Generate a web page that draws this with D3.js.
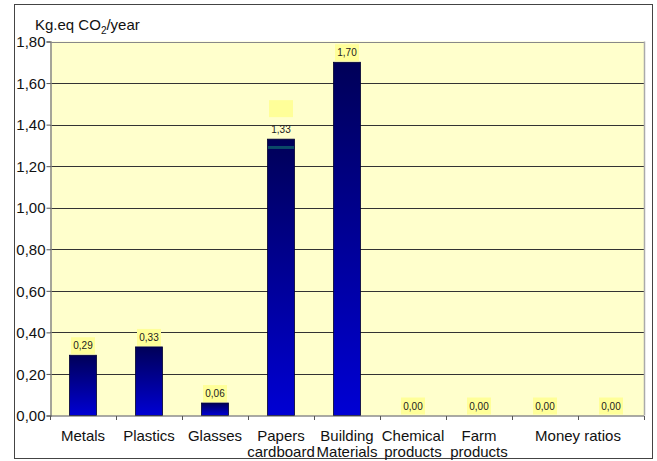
<!DOCTYPE html>
<html>
<head>
<meta charset="utf-8">
<script src="https://cdn.jsdelivr.net/npm/d3@7/dist/d3.min.js"></script>
<style>
  html, body { margin: 0; padding: 0; background: #fff; }
  svg { display: block; font-family: "Liberation Sans", Arial, sans-serif; }
</style>
</head>
<body>
<svg id="chart" width="657" height="461"></svg>
<script>
// Emissions per material family, kg CO2 equivalent per year
const categories = ["Metals", "Plastics", "Glasses", "Papers cardboard", "Building Materials",
                    "Chemical products", "Farm products", "Money", "ratios"];
const values = [0.29, 0.33, 0.06, 1.33, 1.70, 0.00, 0.00, 0.00, 0.00];
const valueLabels = ["0,29", "0,33", "0,06", "1,33", "1,70", "0,00", "0,00", "0,00", "0,00"];
// Category axis captions (line-wrapped); the last one spans the two money columns
const axisCaptions = [
  { lines: ["Metals"], span: [0, 0] },
  { lines: ["Plastics"], span: [1, 1] },
  { lines: ["Glasses"], span: [2, 2] },
  { lines: ["Papers", "cardboard"], span: [3, 3] },
  { lines: ["Building", "Materials"], span: [4, 4] },
  { lines: ["Chemical", "products"], span: [5, 5] },
  { lines: ["Farm", "products"], span: [6, 6] },
  { lines: ["Money ratios"], span: [7, 8] }
];
const yTicks = [0, 0.2, 0.4, 0.6, 0.8, 1.0, 1.2, 1.4, 1.6, 1.8];
const yTickLabels = ["0,00", "0,20", "0,40", "0,60", "0,80", "1,00", "1,20", "1,40", "1,60", "1,80"];
// Earlier stacked level still visible inside the paper column
const paperInnerLevel = 1.29;

const FONT = "'Liberation Sans', Arial, sans-serif";
const svg = d3.select("#chart");
const plot = { left: 50, right: 644, top: 41.5, bottom: 415.5 };

// outer frame
svg.append("rect")
  .attr("x", 14.5).attr("y", 4.5).attr("width", 638).attr("height", 454)
  .attr("fill", "#fff").attr("stroke", "#444").attr("stroke-width", 1);

const x = d3.scaleBand().domain(d3.range(categories.length))
  .range([plot.left, plot.right]).paddingInner(0).paddingOuter(0);
const y = d3.scaleLinear().domain([0, 1.8]).range([plot.bottom, plot.top]);

// plot background
svg.append("rect")
  .attr("x", plot.left).attr("y", plot.top)
  .attr("width", plot.right - plot.left).attr("height", plot.bottom - plot.top)
  .attr("fill", "#ffffcc");

// gridlines
svg.append("g").selectAll("line").data(yTicks.filter(v => v > 0)).join("line")
  .attr("x1", plot.left).attr("x2", plot.right)
  .attr("y1", d => Math.round(y(d)) + 0.5).attr("y2", d => Math.round(y(d)) + 0.5)
  .attr("stroke", d => d === 1.8 ? "#888" : "#333").attr("stroke-width", 1);

// plot area right edge
svg.append("line")
  .attr("x1", plot.right + 0.5).attr("x2", plot.right + 0.5)
  .attr("y1", plot.top).attr("y2", plot.bottom)
  .attr("stroke", "#aaa").attr("stroke-width", 1.5);

// bar gradient
const defs = svg.append("defs");
const grad = defs.append("linearGradient").attr("id", "barGrad")
  .attr("x1", 0).attr("y1", 0).attr("x2", 0).attr("y2", 1);
grad.append("stop").attr("offset", "0%").attr("stop-color", "#000058");
grad.append("stop").attr("offset", "100%").attr("stop-color", "#0000d4");

const barW = 27;
svg.append("g").selectAll("rect")
  .data(values.map((v, i) => ({ v, i })).filter(d => d.v > 0)).join("rect")
  .attr("x", d => x(d.i) + x.bandwidth() / 2 - barW / 2)
  .attr("y", d => y(d.v))
  .attr("width", barW)
  .attr("height", d => y(0) - y(d.v))
  .attr("fill", "url(#barGrad)")
  .attr("stroke", "#000030").attr("stroke-width", 0.8);

// inner level line in the paper column
const pi = categories.indexOf("Papers cardboard");
svg.append("rect")
  .attr("x", x(pi) + x.bandwidth() / 2 - barW / 2 + 0.5)
  .attr("y", y(paperInnerLevel) - 1.5)
  .attr("width", barW - 1).attr("height", 3)
  .attr("fill", "#0b4a68");

// axes
const yAxis = d3.axisLeft(y).tickValues(yTicks).tickSize(4)
  .tickFormat((d, i) => yTickLabels[i]);
const gy = svg.append("g").attr("transform", `translate(${plot.left + 0.5},0)`).call(yAxis);
gy.select(".domain").attr("stroke", "#888").attr("stroke-width", 1.5);
gy.selectAll(".tick line").attr("stroke", "#555");
gy.selectAll(".tick text").attr("font-size", 15).attr("fill", "#111")
  .attr("font-family", FONT).attr("x", -5).attr("dy", "0.35em");

const xAxis = d3.axisBottom(d3.scaleLinear().domain([0, categories.length]).range([plot.left, plot.right]))
  .tickValues(d3.range(categories.length + 1)).tickSize(4).tickFormat("");
const gx = svg.append("g").attr("transform", `translate(0,${plot.bottom + 0.5})`).call(xAxis);
gx.select(".domain").attr("stroke", "#555").attr("d", `M${plot.left},0H${plot.right}`);
gx.selectAll(".tick line").attr("stroke", "#555");

// category captions
const cap = svg.append("g").attr("font-size", 15).attr("fill", "#111")
  .attr("font-family", FONT).attr("text-anchor", "middle");
axisCaptions.forEach(c => {
  const cx = (x(c.span[0]) + x(c.span[1]) + x.bandwidth()) / 2;
  const t = cap.append("text").attr("x", cx).attr("y", 441);
  c.lines.forEach((ln, k) => {
    t.append("tspan").attr("x", cx).attr("dy", k === 0 ? 0 : 16).text(ln);
  });
});

// value labels with highlight boxes
const lab = svg.append("g").attr("font-size", 10).attr("text-anchor", "middle")
  .attr("fill", "#222").attr("font-family", FONT);
values.forEach((v, i) => {
  const cx = x(i) + x.bandwidth() / 2;
  const top = y(v);
  const boxH = 17, boxW = 24;
  let boxY = top - boxH - 1;
  if (categories[i] === "Papers cardboard") boxY = top - 39;
  lab.append("rect").attr("x", cx - boxW / 2).attr("y", boxY)
    .attr("width", boxW).attr("height", boxH).attr("fill", "#ffff99");
  lab.append("text").attr("x", cx).attr("y", top - 6).text(valueLabels[i]);
});

// unit caption
const unit = svg.append("text").attr("x", 35).attr("y", 30).attr("font-size", 15)
  .attr("fill", "#111").attr("font-family", FONT);
unit.append("tspan").text("Kg.eq CO");
unit.append("tspan").attr("font-size", 10).attr("dy", 4).text("2");
unit.append("tspan").attr("dy", -4).text("/year");
</script>
</body>
</html>
